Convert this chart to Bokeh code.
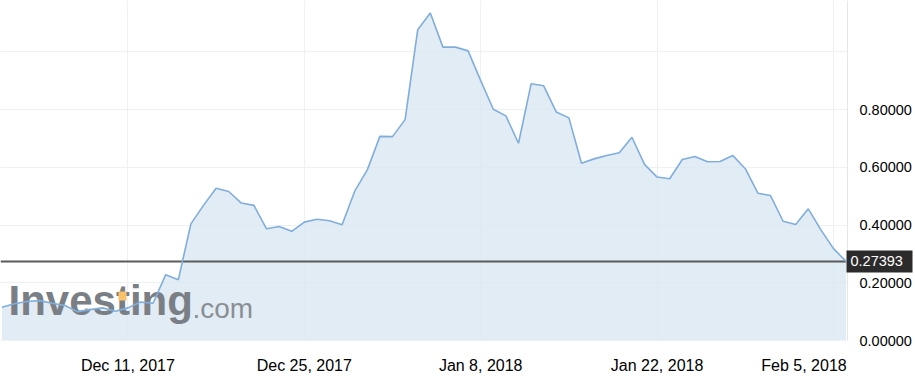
import pandas as pd
from bokeh.plotting import figure
from bokeh.models import Range1d, FixedTicker, Label, BoxAnnotation, LinearAxis
from bokeh.embed import file_html
from bokeh.resources import INLINE

# ---- data ----
start_date = "2017-12-01"
end_date = "2018-02-06"
prices = [0.115, 0.127, 0.135, 0.138, 0.129, 0.121, 0.100, 0.107, 0.113, 0.101,
          0.113, 0.133, 0.129, 0.228, 0.210, 0.404, 0.468, 0.527, 0.516, 0.476,
          0.468, 0.387, 0.395, 0.378, 0.410, 0.420, 0.415, 0.401, 0.517, 0.591,
          0.707, 0.706, 0.765, 1.076, 1.134, 1.016, 1.016, 1.003, 0.900, 0.801,
          0.778, 0.683, 0.889, 0.882, 0.791, 0.771, 0.614, 0.629, 0.641, 0.650,
          0.704, 0.610, 0.566, 0.560, 0.627, 0.637, 0.619, 0.620, 0.641, 0.595,
          0.510, 0.502, 0.413, 0.402, 0.456, 0.383, 0.318, 0.27393]
last_price = 0.27393
last_label = "0.27393"
x_tick_dates = ["2017-12-11", "2017-12-25", "2018-01-08", "2018-01-22", "2018-02-05"]
x_tick_labels = ["Dec 11, 2017", "Dec 25, 2017", "Jan 8, 2018", "Jan 22, 2018", "Feb 5, 2018"]
y_ticks = [0.0, 0.2, 0.4, 0.6, 0.8]
y_tick_labels = ["0.00000", "0.20000", "0.40000", "0.60000", "0.80000"]
y_grid_ticks = [0.0, 0.2, 0.4, 0.6, 0.8, 1.0]
y_max = 1.1775

dates = pd.date_range(start_date, end_date, freq="D")

W, H = 915, 380
PLOT_H = 340          # height of the data area (value 0 at its bottom)
EXT = 9               # extra frame below zero so the 0.00000 label is not clipped
DATA_W = 847          # pixel width of the data area (right axis sits here)
PX_PER_DAY = 12.6
PX_PER_UNIT = PLOT_H / y_max
pad = pd.Timedelta(hours=2.67)
x_start = dates[0] - pad
data_right = dates[-1] + pad
x_end = x_start + pd.Timedelta(days=W / PX_PER_DAY)
y_min = -EXT / PX_PER_UNIT
to_ms = lambda t: pd.Timestamp(t).value // 10**6

p = figure(width=W, height=H, x_axis_type="datetime", y_axis_location=None,
           output_backend="svg", toolbar_location=None,
           x_range=Range1d(x_start, x_end), y_range=Range1d(y_min, y_max),
           min_border_left=0, min_border_right=0, min_border_top=0,
           min_border_bottom=H - PLOT_H - EXT)
p.outline_line_color = None
p.background_fill_color = "white"
p.border_fill_color = "white"

# x axis: last label kept inside the data area (right-aligned to its edge)
tick_ms = [to_ms(d) for d in x_tick_dates]
label_ms = tick_ms[:-1] + [to_ms(data_right - pd.Timedelta(days=43.5 / PX_PER_DAY))]
p.xaxis.ticker = FixedTicker(ticks=label_ms)
p.xaxis.major_label_overrides = {t: l for t, l in zip(label_ms, x_tick_labels)}
p.xgrid.ticker = FixedTicker(ticks=tick_ms)
p.ygrid.ticker = FixedTicker(ticks=y_grid_ticks)
for g in (p.xgrid, p.ygrid):
    g.grid_line_color = "#eef0f2"
    g.grid_line_width = 1

p.xaxis.axis_line_color = None
p.xaxis.major_tick_line_color = None
p.xaxis.minor_tick_line_color = None
p.xaxis.major_label_text_font = "Liberation Sans"
p.xaxis.major_label_text_font_size = "16px"
p.xaxis.major_label_text_color = "#000000"
p.xaxis.major_label_standoff = 10 - EXT

# white strips right of and below the data area, over the grid
p.add_layout(BoxAnnotation(left=data_right, fill_color="white", fill_alpha=1,
                           line_color=None, level="underlay"))
p.add_layout(BoxAnnotation(top=0, fill_color="white", fill_alpha=1,
                           line_color=None, level="underlay"))

# right price axis fixed at the edge of the data area
yax = LinearAxis(fixed_location=to_ms(data_right), ticker=FixedTicker(ticks=y_ticks),
                 major_label_overrides={t: l for t, l in zip(y_ticks, y_tick_labels)},
                 bounds=(0, y_max))
yax.axis_line_color = "#e3e6ea"
yax.major_tick_line_color = None
yax.minor_tick_line_color = None
yax.major_label_text_font = "Liberation Sans"
yax.major_label_text_font_size = "14.5px"
yax.major_label_text_color = "#000000"
yax.major_label_standoff = 6
p.add_layout(yax, "right")

# logo watermark
p.add_layout(Label(x=8, y=17 + EXT, x_units="screen", y_units="screen", text="Investing",
                   text_font="Liberation Sans", text_font_style="bold", text_font_size="42px",
                   text_color="#7a7f86"))
p.add_layout(Label(x=192, y=17 + EXT, x_units="screen", y_units="screen", text=".com",
                   text_font="Liberation Sans", text_font_size="28px", text_color="#8a8f95"))
p.add_layout(BoxAnnotation(left=118, right=126, bottom=40 + EXT, top=49 + EXT,
                           left_units="screen", right_units="screen",
                           bottom_units="screen", top_units="screen",
                           fill_color="#f9c268", fill_alpha=1, line_color=None))

# area + line
p.varea(x=dates, y1=0, y2=prices, fill_color="#dbe7f1", fill_alpha=0.8)
ln = p.line(x=dates, y=prices, line_color="#80aedc", line_width=1.6)
ln.level = "overlay"

# last price line and label box
p.segment(x0=[x_start], x1=[dates[-1]], y0=[last_price], y1=[last_price],
          line_color="#5a5a5a", line_width=2)
half_box = 11 / PX_PER_UNIT
p.add_layout(BoxAnnotation(left=DATA_W - 1, right=W - 3, left_units="screen", right_units="screen",
                           bottom=last_price - half_box, top=last_price + half_box,
                           fill_color="#2b2b2b", fill_alpha=1, line_color=None))
p.add_layout(Label(x=DATA_W + 3, x_units="screen", y=last_price, y_units="data", text=last_label,
                   text_font="Liberation Sans", text_font_size="14.5px", text_color="white",
                   text_baseline="middle"))

open("out.html", "w").write(file_html(p, INLINE))
